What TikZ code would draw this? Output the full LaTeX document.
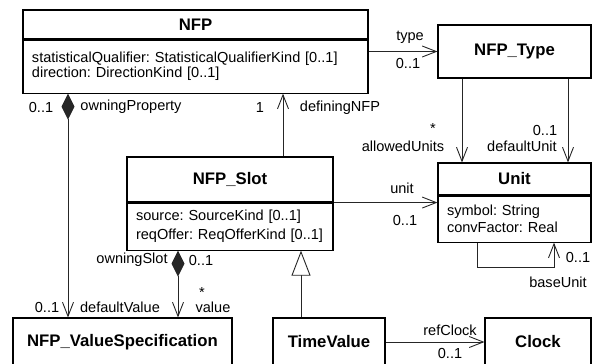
\documentclass[tikz,border=0pt]{standalone}
\usepackage{fontspec}
\setmainfont{Liberation Sans}
\usetikzlibrary{arrows.meta,positioning}
\frenchspacing

\newcommand{\clsfont}{\bfseries\fontsize{16.8}{19}\selectfont}
\newcommand{\txtfont}{\fontsize{14.6}{16}\selectfont}

\tikzset{
  ClassStyle/.style={draw=black, line width=1.1bp, inner sep=0pt, font=\clsfont},
  AttrStyle/.style={draw=black, line width=1.1bp, inner xsep=9bp, inner ysep=0pt,
    align=left, font=\txtfont},
  LabelStyle/.style={inner sep=0pt, font=\txtfont},
  EdgeStyle/.style={line width=0.9bp, black!85},
  AssocStyle/.style={EdgeStyle, -{Straight Barb[length=14bp,width=11bp]}},
  CompStyle/.style={EdgeStyle,
    {Diamond[length=26bp,width=13bp]}-{Straight Barb[length=14bp,width=11bp]}},
  GenStyle/.style={EdgeStyle, -{Triangle[length=25bp,width=19bp,fill=white]}}
}

\begin{document}
\begin{tikzpicture}[x=1bp,y=-1bp]
  \useasboundingbox (0,0) rectangle (593,363);
  \clip (0,0) rectangle (593,363);

  \node[ClassStyle, minimum width=345bp, minimum height=29bp] (nfp) at (195.5,24.5) {NFP};
  \node[AttrStyle, text width=327bp, minimum height=53bp, below=0pt of nfp] (nfpAttr)
    {statisticalQualifier: StatisticalQualifierKind [0..1]\\[-1bp]direction: DirectionKind [0..1]};

  \node[ClassStyle, minimum width=153bp, minimum height=53bp] (nfpType) at (514.5,51.5) {NFP\_Type};

  \node[ClassStyle, minimum width=206bp, minimum height=45bp] (slot) at (230,179.5) {NFP\_Slot};
  \node[AttrStyle, text width=188bp, minimum height=47bp, below=0pt of slot] (slotAttr)
    {source: SourceKind [0..1]\\[3bp]reqOffer: ReqOfferKind [0..1]};

  \node[ClassStyle, minimum width=153bp, minimum height=32bp] (unit) at (514.5,179) {Unit};
  \node[AttrStyle, text width=135bp, minimum height=46bp, below=0pt of unit] (unitAttr)
    {symbol: String\\[1bp]convFactor: Real};

  \node[ClassStyle, minimum width=219bp, minimum height=48bp] (valueSpec) at (122.5,342) {NFP\_ValueSpecification};
  \node[ClassStyle, minimum width=112bp, minimum height=48bp] (timeValue) at (329,342) {TimeValue};
  \node[ClassStyle, minimum width=106bp, minimum height=48bp] (clock) at (538,342) {Clock};

  \coordinate (propX) at (68,0);
  \coordinate (slotX) at (178,0);
  \coordinate (defX) at (283,0);
  \coordinate (genX) at (301,0);
  \coordinate (allowX) at (462,0);
  \coordinate (defUnitX) at (568,0);
  \coordinate (loopA) at (477,267);
  \coordinate (loopB) at (554,267);

  \draw[AssocStyle] (nfpAttr.east |- nfpType.west) -- (nfpType.west);
  \draw[CompStyle] (propX |- nfpAttr.south) -- (propX |- valueSpec.north);
  \draw[AssocStyle] (defX |- slot.north) -- (defX |- nfpAttr.south);
  \draw[AssocStyle] (allowX |- nfpType.south) -- (allowX |- unit.north);
  \draw[AssocStyle] (defUnitX |- nfpType.south) -- (defUnitX |- unit.north);
  \draw[AssocStyle] (slotAttr.north east) -- (slotAttr.north east -| unitAttr.west);
  \draw[AssocStyle] (loopA |- unitAttr.south) -- (loopA) -- (loopB) -- (loopB |- unitAttr.south);
  \draw[CompStyle] (slotX |- slotAttr.south) -- (slotX |- valueSpec.north);
  \draw[GenStyle] (genX |- timeValue.north) -- (genX |- slotAttr.south);
  \draw[AssocStyle] (timeValue.east) -- (clock.west);

  \node[LabelStyle] (typeRole) at (410,37) {type};
  \node[LabelStyle] (typeMult) at (408,63) {0..1};
  \node[LabelStyle] (allowMult) at (433,128) {*};
  \node[LabelStyle] (allowRole) at (403,146) {allowedUnits};
  \node[LabelStyle] (defUnitMult) at (545,130) {0..1};
  \node[LabelStyle] (defUnitRole) at (522,146) {defaultUnit};
  \node[LabelStyle] (propMult) at (41,107) {0..1};
  \node[LabelStyle] (propRole) at (131,107) {owningProperty};
  \node[LabelStyle] (defMult) at (260,107) {1};
  \node[LabelStyle] (defRole) at (340,108) {definingNFP};
  \node[LabelStyle] (unitRole) at (402,188) {unit};
  \node[LabelStyle] (unitMult) at (405,220) {0..1};
  \node[LabelStyle] (baseMult) at (578,257) {0..1};
  \node[LabelStyle] (baseRole) at (558,282) {baseUnit};
  \node[LabelStyle] (slotRole) at (132,260) {owningSlot};
  \node[LabelStyle] (slotMult) at (201,260) {0..1};
  \node[LabelStyle] (valueMult) at (202,292) {*};
  \node[LabelStyle] (valueRole) at (213,307) {value};
  \node[LabelStyle] (defValMult) at (47,307) {0..1};
  \node[LabelStyle] (defValRole) at (120,307) {defaultValue};
  \node[LabelStyle] (clockRole) at (450,330) {refClock};
  \node[LabelStyle] (clockMult) at (450,353) {0..1};
\end{tikzpicture}
\end{document}
